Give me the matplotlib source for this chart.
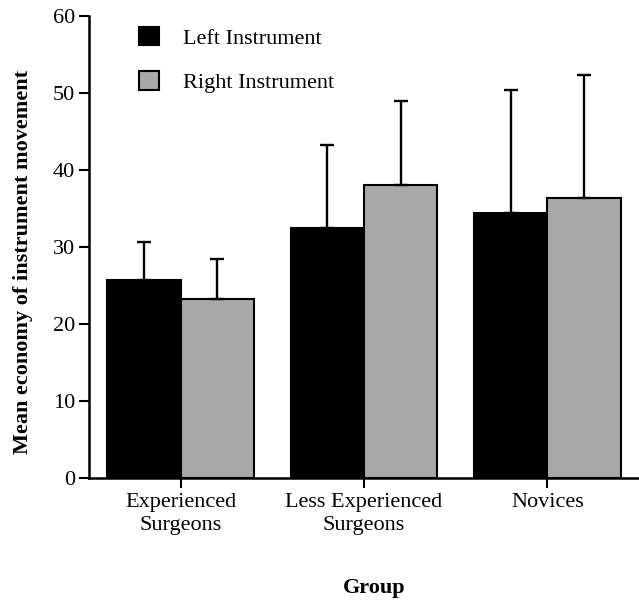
import matplotlib
matplotlib.use("Agg")
import matplotlib.pyplot as plt
import numpy as np

groups = ["Experienced\nSurgeons", "Less Experienced\nSurgeons", "Novices"]
left_means = [25.7, 32.5, 34.4]
left_sd = [5.0, 10.7, 16.0]
right_means = [23.2, 38.0, 36.3]
right_sd = [5.2, 11.0, 16.1]
series_names = ["Left Instrument", "Right Instrument"]
yticks = [0, 10, 20, 30, 40, 50, 60]

plt.rcParams['font.family'] = ['Liberation Serif', 'DejaVu Serif']

W, H = 639, 600
fig = plt.figure(figsize=(W / 100, H / 100), dpi=100)
ax = fig.add_axes([89 / W, 1 - 478 / H, (W - 89) / W, (478 - 16) / H])

x = np.arange(len(groups))
bw = 0.4
b1 = ax.bar(x - bw / 2, left_means, bw, color='black', edgecolor='black', linewidth=1.5,
            label=series_names[0], zorder=2)
b2 = ax.bar(x + bw / 2, right_means, bw, color='#a8a8a8', edgecolor='black', linewidth=1.5,
            label=series_names[1], zorder=2)

ekw = dict(fmt='none', ecolor='black', elinewidth=1.7, capsize=4.8, capthick=1.7, zorder=3)
ax.errorbar(x - bw / 2, left_means, yerr=[np.zeros(len(left_sd)), left_sd], **ekw)
ax.errorbar(x + bw / 2, right_means, yerr=[np.zeros(len(right_sd)), right_sd], **ekw)

ax.set_xlim(-0.5, 2.5)
ax.set_ylim(0, 60)
ax.set_yticks(yticks)
ax.set_xticks(x)
ax.set_xticklabels(groups, fontsize=16, linespacing=1.25)
ax.tick_params(axis='y', labelsize=16, length=7, width=1.5, direction='out', pad=3)
ax.tick_params(axis='x', length=7, width=1.5, direction='out', pad=4)

for s in ['top', 'right']:
    ax.spines[s].set_visible(False)
for s in ['left', 'bottom']:
    ax.spines[s].set_linewidth(1.8)

ax.set_ylabel("Mean economy of instrument movement", fontsize=16, fontweight='bold')
ax.yaxis.set_label_coords((33 - 89) / (W - 89), (478 - 262) / (478 - 16))
ax.set_xlabel("Group", fontsize=16, fontweight='bold')
ax.xaxis.set_label_coords((374 - 89) / (W - 89), -(578 - 478) / (478 - 16))

leg = ax.legend(handles=[b1, b2], loc='upper left',
                bbox_to_anchor=(139 / W, 1 - 27 / H), bbox_transform=fig.transFigure,
                frameon=False, fontsize=16, handlelength=0.9, handleheight=0.9,
                handletextpad=1.1, labelspacing=1.0, borderpad=0, borderaxespad=0)

fig.savefig("out.png", dpi=100)
